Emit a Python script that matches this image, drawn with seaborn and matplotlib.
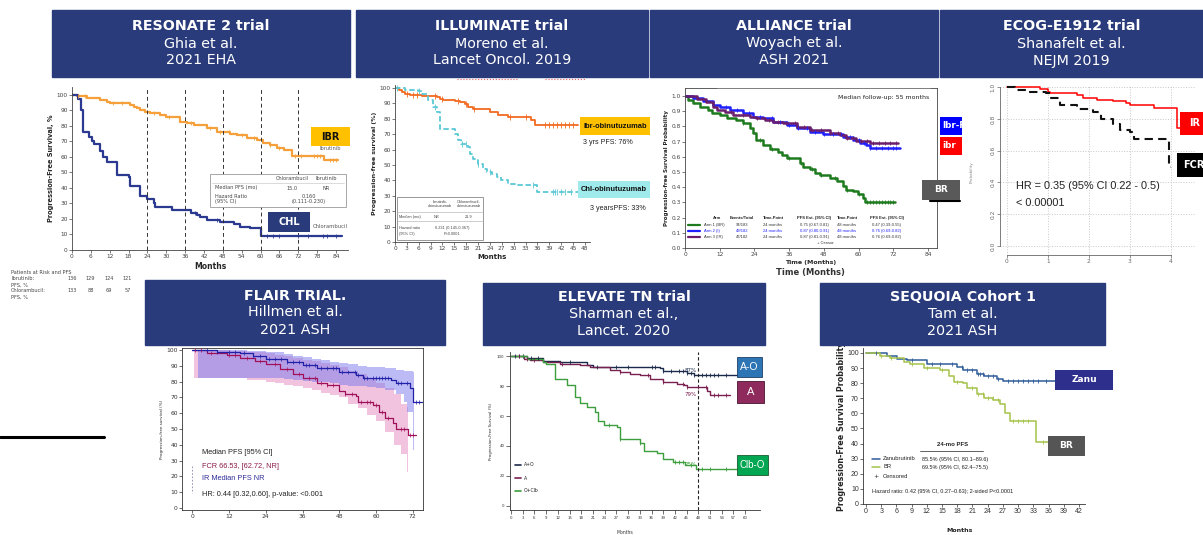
import matplotlib
matplotlib.use('Agg')
import matplotlib.pyplot as plt
from matplotlib.patches import Rectangle
import numpy as np
import seaborn as sns

W, H = 1203, 535
NAVY = '#2a3b7b'

# ---- RESONATE 2 (ibrutinib vs chlorambucil), PFS %
res_ibr_t = [0, 1.6, 4.8, 9, 11, 12.2, 18.5, 19.6, 20.6, 21.7, 23.3, 24.9, 28, 30, 34.4, 36.5, 38.7,
             42.9, 46, 50.3, 52.4, 55.6, 58.8, 60.9, 63, 65.1, 67.5, 70, 80.2, 84.7]
res_ibr_s = [100, 99, 97.6, 96.6, 95.5, 94.4, 93.3, 92.3, 91.2, 90, 89, 88, 87, 85.8, 82.6, 81.5, 80.5,
             78.3, 76.2, 75, 74, 71.9, 70.8, 68.7, 67.6, 65.5, 64.4, 60.5, 58, 58]
res_ibr_cens = [2, 4, 13, 16, 26, 31, 38, 44, 47, 50, 54, 58, 63, 66, 71, 73, 77, 78, 79, 82, 83, 84]
res_chl_t = [0, 2, 3, 3.5, 5.3, 6.4, 7, 9, 10, 11, 14.3, 18, 18.5, 21.7, 23.8, 26, 26.5, 31.8, 38,
             39.7, 40.8, 42.9, 47, 51.4, 53.5, 56.7, 60, 86]
res_chl_s = [100, 97, 90, 76, 73, 70, 68, 64, 60, 57, 48.5, 47, 41, 35, 33, 30, 28, 25.7, 23.6,
             22.5, 21.5, 19.3, 18.2, 17, 15, 14, 9, 9]
res_chl_cens = [39, 46, 62, 64, 66, 72, 75, 80, 81, 84]
res_landmarks = [24, 36, 48, 60, 72]
res_risk_ibr = ['136', '129', '124', '121']
res_risk_chl = ['133', '88', '69', '57']

# ---- ILLUMINATE, PFS %
ill_ibr_t = [0, 1, 1.7, 2.5, 3.8, 6.7, 10.5, 11.4, 12.2, 15.2, 16.4, 17.7, 18.5, 19.8, 24, 26.1,
             28.6, 34.5, 35.4, 46.3]
ill_ibr_s = [100, 98.5, 97.4, 96.3, 95.2, 94.8, 94.2, 93, 92, 91.3, 91, 89.8, 87.7, 86.6, 84.4,
             82.3, 81.2, 79, 76.2, 76.2]
ill_ibr_cens = [3, 4.5, 5.5, 10, 12, 16, 18, 20, 29, 33, 38, 39, 40, 41, 42, 43, 44, 45]
ill_chl_t = [0, 2.5, 5.9, 6.7, 8.4, 9.7, 10.5, 11.4, 15.2, 16, 16.8, 18.5, 18.9, 19.8, 21, 22.3,
             23.2, 24.4, 25.7, 26.9, 28.6, 30.3, 35.8, 47]
ill_chl_s = [100, 98.5, 97.8, 96.3, 92, 87.7, 84.4, 73.6, 70.3, 66, 63.9, 61.7, 57.4, 54, 50.9,
             47.2, 45.5, 44.4, 42.2, 40, 37.9, 36.8, 32.5, 32.5]
ill_chl_cens = [0.5, 6, 10, 17, 18, 21, 24, 35, 40, 40.5, 41, 42, 43, 44.5]

# ---- ALLIANCE, PFS probability
all_br_t = [0, 1.2, 2.9, 5.2, 8, 9.2, 12, 14.4, 17.8, 20, 22.4, 23.6, 24.7, 27, 29.3, 32.2, 33.4,
            35.1, 39.7, 40.9, 43.2, 44.9, 46.6, 50, 52.4, 54.7, 55.8, 58.1, 59.8, 61.6, 62.1, 72.5]
all_br_s = [1, .974, .952, .93, .908, .886, .875, .853, .842, .82, .788, .755, .711, .678, .652,
            .635, .613, .595, .558, .536, .519, .492, .481, .46, .438, .405, .383, .372, .354,
            .328, .306, .306]
all_br_cens = [20, 26, 30, 36, 40, 44, 47, 52, 56, 60, 63, 64, 65, 66, 67, 68, 69, 70, 71, 72]
all_i_t = [0, 2.9, 6.3, 9.8, 12, 15.5, 20, 23.6, 27, 30.5, 35.1, 38.6, 43.2, 47.8, 54.7, 58.1,
           60.4, 62.7, 63.9, 74.2]
all_i_s = [1, .985, .967, .94, .926, .908, .886, .864, .853, .831, .81, .788, .766, .748, .733,
           .711, .689, .678, .661, .661]
all_i_cens = [14, 18, 22, 26, 30, 33, 36, 39, 42, 45, 48, 51, 54, 57, 60, 62, 64, 66, 68, 70, 72, 73]
all_ir_t = [0, 4, 7.4, 9.8, 10.9, 13.8, 16.7, 22.4, 24.7, 27.6, 30.5, 33.9, 38.6, 43.2, 50, 53.5,
            55.8, 59.2, 63.9, 73.6]
all_ir_s = [1, .98, .963, .93, .908, .897, .875, .864, .858, .842, .831, .82, .799, .777, .755,
            .744, .722, .707, .689, .689]
all_ir_cens = [16, 20, 25, 29, 32, 35, 38, 41, 44, 47, 50, 53, 56, 58, 61, 63, 65, 67, 69, 71, 73]
all_rows = [('Arm 1 (BR)', '94/183', '0.75 (0.67-0.81)', '0.47 (0.39-0.55)'),
            ('Arm 2 (I)', '49/182', '0.87 (0.80-0.91)', '0.76 (0.69-0.82)'),
            ('Arm 3 (IR)', '47/182', '0.87 (0.81-0.91)', '0.76 (0.69-0.82)')]

# ---- ECOG-E1912, PFS probability vs years
ecog_ir_t = [0, 0.8, 1.0, 1.05, 1.7, 1.85, 2.2, 2.6, 2.9, 3.0, 3.6, 4.14, 4.24]
ecog_ir_s = [1, .99, .97, .96, .95, .93, .92, .91, .90, .89, .87, .74, .74]
ecog_fcr_t = [0, 0.2, 0.5, 0.95, 1.05, 1.3, 1.7, 2.1, 2.3, 2.6, 2.75, 3.0, 3.1, 3.5, 3.95, 4.0]
ecog_fcr_s = [1, .98, .97, .96, .93, .89, .86, .84, .80, .77, .73, .72, .67, .67, .50, .50]

# ---- FLAIR, PFS %
fl_ir_t = [0, 8, 15.7, 20, 24, 31, 36, 40.6, 48, 53.6, 55.7, 65, 66.5, 71, 72.1, 75]
fl_ir_s = [100, 99, 97.9, 96, 94.3, 92.6, 90.5, 88.4, 85.9, 84.2, 82, 81, 79, 75.8, 67.4, 67.4]
fl_ir_cens = [5, 8, 12, 14, 17, 20, 22, 25, 27, 29, 31, 33, 35, 37, 38, 40, 42, 44, 46, 47, 49, 51,
              53, 54, 56, 57, 59, 60, 61, 62, 63, 64, 67, 68, 70, 73, 74]
fl_fcr_t = [0, 5, 11.4, 15.7, 20.5, 24, 28.7, 33, 36, 40.6, 44, 48, 50, 53.6, 54, 59, 61, 63, 65.5,
            66.5, 70.5, 73]
fl_fcr_s = [100, 98, 97, 95, 93, 91, 88, 85, 82, 79, 78, 74, 72, 71, 67, 65, 61, 57, 54, 50, 46, 46]
fl_fcr_cens = [1, 3, 6, 12, 14, 18, 22, 27, 31, 35, 38, 40, 42, 44, 46, 50, 52, 55, 57, 58, 60, 62,
               64, 68, 69, 71, 72]
fl_ir_band_t = [2, 6, 12, 18, 24, 30, 33, 36, 39, 42, 45, 48, 51, 54, 57, 60, 63, 66.5, 69, 70,
                71, 72, 72.5]
fl_ir_band_hi = [100, 100, 100, 99.5, 98.5, 97.5, 96.5, 95.5, 94.5, 93.5, 92.5, 91.5, 91, 90, 89.5,
                 89, 88.5, 87.5, 87, 87, 86.5, 86, 86]
fl_ir_band_lo = [82, 82, 82, 82, 82, 81.5, 81, 80.5, 80, 79.5, 79, 78, 77.5, 77, 76.5, 76, 75, 72,
                 67, 61, 61, 37, 37]
fl_fcr_band_t = [0.5, 6, 12, 18, 24, 27, 30, 33, 36, 39, 42, 45, 48, 51, 54, 57, 60, 63, 66, 68,
                 70, 70.5]
fl_fcr_band_hi = [100, 100, 99.5, 99, 98, 97, 96, 95, 94, 93, 92, 90.5, 89, 87, 85, 82, 79, 76, 72,
                  66, 64, 64]
fl_fcr_band_lo = [82, 82, 82, 81, 80, 79, 78, 77, 76, 74.5, 73, 71.5, 70, 66, 63, 59, 55, 48, 40,
                  34, 23, 23]

# ---- ELEVATE TN, PFS %
el_ao_t = [0, 4, 8.3, 12.6, 19.4, 21.1, 26.2, 38.2, 39, 45, 46.8, 57.9]
el_ao_s = [100, 98.4, 96.6, 95.7, 93.9, 92.8, 92.4, 91.7, 89.9, 89, 87.6, 87.6]
el_ao_cens = [1, 2, 3, 5, 7, 15, 22, 27, 30, 36, 37, 39, 41, 43, 44, 45, 46, 47, 49, 50, 51, 52, 53, 55]
el_a_t = [0, 3.2, 4.9, 8.3, 12.6, 17.7, 20.3, 25.4, 28, 30.5, 33, 35.6, 39, 42.5, 44.2, 45, 50.2,
          51, 56.2]
el_a_s = [100, 98, 97.3, 96.2, 95, 93.9, 92.4, 90.6, 89.4, 88.3, 87.2, 84.9, 82.7, 81.6, 80.4,
          79.3, 77, 74.2, 74.2]
el_a_cens = [2, 4, 6, 13, 28, 35, 39, 44, 45, 48, 50, 52, 53, 55]
el_clb_t = [0, 4, 8.3, 9, 11.3, 14.3, 16.4, 17.7, 19.4, 21.5, 22.4, 23.7, 27.1, 28, 33, 34, 37.4,
            39, 41.6, 44.6, 47.4, 57.9]
el_clb_s = [100, 98, 96, 95, 85, 80.4, 72.6, 69, 65.8, 62.5, 56.9, 54, 52.4, 44.5, 42.2, 36.6,
            35.5, 31.5, 29.2, 27.6, 24.7, 24.7]
el_clb_cens = [3, 25, 28, 33, 42, 43, 44, 46, 49, 51, 55]
el_pct = ['87%', '79%', '25%']
el_landmark = 48

# ---- SEQUOIA, PFS %
sq_zanu_t = [0, 4.1, 6.1, 8, 12, 17.9, 19.2, 21.9, 23.2, 25.8, 27, 42.2]
sq_zanu_s = [100, 98, 96, 95.5, 93, 91, 89, 86, 85, 83, 81.5, 81.5]
sq_zanu_cens = [2, 9, 13, 14.5, 17, 19, 20, 21, 22, 22.5, 23, 24, 25, 26, 28, 29, 30, 31, 32, 33,
                34, 35.6]
sq_br_t = [0, 2.8, 4.8, 7.4, 8.7, 11.4, 14.6, 16.3, 17.3, 19.2, 19.9, 21.9, 23.2, 25.1, 26.4, 27.4,
           28.4, 33.5, 36.3]
sq_br_s = [100, 98, 97, 94, 93, 90, 89, 85, 81, 80, 77, 73, 70, 69, 66, 60, 55, 41, 41]
sq_br_cens = [3, 5, 9, 12, 15, 18, 21, 22, 23, 24, 25, 26, 29, 30, 31, 32, 35]

titles_top = [(52, 10, 350, 77, ['RESONATE 2 trial', 'Ghia et al.', '2021 EHA']),
              (356, 10, 648, 77, ['ILLUMINATE trial', 'Moreno et al.', 'Lancet Oncol. 2019']),
              (650, 10, 938, 77, ['ALLIANCE trial', 'Woyach et al.', 'ASH 2021']),
              (940, 10, 1203, 77, ['ECOG-E1912 trial', 'Shanafelt et al.', 'NEJM 2019'])]
titles_bottom = [(145, 280, 445, 345, ['FLAIR TRIAL.', 'Hillmen et al.', '2021 ASH']),
                 (483, 283, 765, 345, ['ELEVATE TN trial', 'Sharman et al.,', 'Lancet. 2020']),
                 (820, 283, 1105, 345, ['SEQUOIA Cohort 1', 'Tam et al.', '2021 ASH'])]

sns.set_style('ticks')
plt.rcParams['font.family'] = ['DejaVu Sans']
NARROW = ['Liberation Sans', 'DejaVu Sans']

fig = plt.figure(figsize=(W / 100, H / 100), dpi=100)


def px_axes(l, t, r, b):
    return fig.add_axes([l / W, 1 - b / H, (r - l) / W, (b - t) / H])


def km(ax, t, s, color, lw=1.2, ls='-', cens=None, ms=10, mlw=0.6):
    sns.lineplot(x=t, y=s, ax=ax, color=color, lw=lw, linestyle=ls,
                 drawstyle='steps-post', estimator=None, sort=False, legend=False)
    if cens:
        idx = np.searchsorted(t, cens, side='right') - 1
        sns.scatterplot(x=cens, y=np.array(s)[idx], ax=ax, marker='|', s=ms,
                        color=color, linewidth=mlw, legend=False, zorder=3)


def small_ticks(ax, fs=4.5, c='#444444', length=2):
    ax.tick_params(labelsize=fs, length=length, width=0.5, pad=1, colors=c)
    for sp in ax.spines.values():
        sp.set_linewidth(0.6)
        sp.set_color(c)


# RESONATE 2
ax = px_axes(72, 87, 348, 250)
km(ax, res_ibr_t, res_ibr_s, '#F5A03A', lw=1.6, cens=res_ibr_cens)
km(ax, res_chl_t, res_chl_s, '#2B3990', lw=1.6, cens=res_chl_cens)
for m in res_landmarks:
    ax.axvline(m, ls=(0, (4, 3)), color='#333333', lw=0.7)
ax.set_xlim(0, 87.8)
ax.set_ylim(0, 105)
ax.set_xticks(range(0, 85, 6))
ax.set_yticks(range(0, 101, 10))
sns.despine(ax=ax)
ax.set_xlabel('Months', fontsize=5.5, fontweight='bold', labelpad=2)
ax.set_ylabel('Progression-Free Survival, %', fontsize=4.8, fontweight='bold', labelpad=2)
small_ticks(ax, 4.2)

# ILLUMINATE
ax = px_axes(395, 85, 590, 242)
km(ax, ill_ibr_t, ill_ibr_s, '#F26A21', lw=1.3, cens=ill_ibr_cens, ms=14)
km(ax, ill_chl_t, ill_chl_s, '#5BC8D6', lw=1.3, ls=(0, (3, 1.5)), cens=ill_chl_cens, ms=14)
ax.set_xlim(0, 49.3)
ax.set_ylim(0, 102)
ax.set_xticks(range(0, 49, 3))
ax.set_yticks(range(0, 101, 10))
sns.despine(ax=ax)
ax.set_xlabel('Months', fontsize=5, fontweight='bold', labelpad=2)
ax.set_ylabel('Progression-free survival (%)', fontsize=4.5, fontweight='bold', labelpad=2)
small_ticks(ax, 4.2)

# ALLIANCE
ax = px_axes(685, 88, 937, 248)
km(ax, all_br_t, all_br_s, '#1E7A1E', lw=1.8, cens=all_br_cens, ms=8)
km(ax, all_i_t, all_i_s, '#1F1FFF', lw=1.8, cens=all_i_cens, ms=8)
km(ax, all_ir_t, all_ir_s, '#6B1E6B', lw=1.8, cens=all_ir_cens, ms=8)
ax.set_xlim(0, 87.1)
ax.set_ylim(0, 1.053)
ax.set_xticks(range(0, 85, 12))
ax.set_yticks(np.arange(0, 1.01, 0.1))
ax.set_yticklabels([f'{v:.1f}' for v in np.arange(0, 1.01, 0.1)])
ax.set_xlabel('Time (Months)', fontsize=4.5, fontweight='bold', labelpad=2)
ax.set_ylabel('Progression-free Survival Probability', fontsize=4, fontweight='bold', labelpad=2)
ax.text(0.97, 0.93, 'Median follow-up: 55 months', transform=ax.transAxes, ha='right',
        fontsize=4.5, color='#222222')
small_ticks(ax, 4.2)

# ECOG-E1912
ax = px_axes(1000, 85, 1195, 255)
km(ax, ecog_ir_t, ecog_ir_s, '#FF0000', lw=1.1)
km(ax, ecog_fcr_t, ecog_fcr_s, '#111111', lw=1.5, ls=(0, (4, 2.5)))
ax.set_xlim(-0.17, 4.59)
ax.set_ylim(-0.057, 1.013)
ax.set_xticks(range(0, 5))
ax.set_yticks(np.arange(0, 1.01, 0.2))
ax.set_yticklabels([f'{v:.1f}' for v in np.arange(0, 1.01, 0.2)], rotation=90, va='center')
ax.grid(True, ls=':', color='#c8c8c8', lw=0.7)
sns.despine(ax=ax)
ax.spines['left'].set_bounds(0, 1)
ax.spines['bottom'].set_bounds(0, 4)
small_ticks(ax, 4.2, c='#666666')

# FLAIR
ax = px_axes(182, 348, 423, 510)
ax.fill_between(fl_fcr_band_t, fl_fcr_band_lo, fl_fcr_band_hi, step='post', color='#E693C4',
                alpha=0.55, lw=0)
ax.fill_between(fl_ir_band_t, fl_ir_band_lo, fl_ir_band_hi, step='post', color='#7B78EC',
                alpha=0.5, lw=0)
km(ax, fl_fcr_t, fl_fcr_s, '#A0105A', lw=0.9, cens=fl_fcr_cens, ms=5, mlw=0.5)
km(ax, fl_ir_t, fl_ir_s, '#2020A8', lw=0.9, cens=fl_ir_cens, ms=5, mlw=0.5)
ax.set_xlim(-3.3, 75.3)
ax.set_ylim(-1.3, 101.3)
ax.set_xticks(range(0, 73, 12))
ax.set_yticks(range(0, 101, 10))
ax.set_ylabel('Progression-free survival (%)', fontsize=3, labelpad=2)
small_ticks(ax, 4.3, c='#333333')

# ELEVATE TN
ax = px_axes(510, 352, 760, 510)
km(ax, el_ao_t, el_ao_s, '#1B2A4A', lw=1.0, cens=el_ao_cens, ms=12)
km(ax, el_a_t, el_a_s, '#7A2050', lw=1.0, cens=el_a_cens, ms=12)
km(ax, el_clb_t, el_clb_s, '#3C9E3C', lw=1.0, cens=el_clb_cens, ms=12)
ax.axvline(el_landmark, ls=(0, (3, 2)), color='#222222', lw=0.8)
ax.set_xlim(-0.26, 63.8)
ax.set_ylim(-2.7, 102.7)
ax.set_xticks(range(0, 61, 3))
ax.set_yticks(range(0, 101, 20))
sns.despine(ax=ax)
ax.set_ylabel('Progression-Free Survival (%)', fontsize=2.8, labelpad=3)
small_ticks(ax, 2.8, c='#333333', length=3)
pct_y = [el_ao_s[-1], el_a_s[np.searchsorted(el_a_t, el_landmark) - 1], el_clb_s[-1]]
for txt, yv, c in zip(el_pct, pct_y, ['#1B2A4A', '#7A2050', '#3C9E3C']):
    ax.text(el_landmark - 0.5, yv + (3 if txt != '79%' else -5), txt, ha='right', va='center',
            fontsize=4, color=c)

# SEQUOIA
ax = px_axes(863, 348, 1085, 504)
km(ax, sq_zanu_t, sq_zanu_s, '#2F5C9A', lw=1.1, cens=sq_zanu_cens, ms=10)
km(ax, sq_br_t, sq_br_s, '#A6C24B', lw=1.1, cens=sq_br_cens, ms=10)
ax.set_xlim(-0.6, 43.2)
ax.set_ylim(0, 103.3)
ax.set_xticks(range(0, 43, 3))
ax.set_yticks(range(0, 101, 10))
sns.despine(ax=ax)
ax.set_ylabel('Progression-Free Survival Probability', fontsize=5.8, fontweight='bold', labelpad=1)
small_ticks(ax, 5, c='#333333')
for lbl in ax.get_xticklabels() + ax.get_yticklabels():
    lbl.set_family(NARROW)

# ---- overlay for title banners, tags and loose text (pixel coordinates)
ov = fig.add_axes([0, 0, 1, 1])
ov.set_xlim(0, W)
ov.set_ylim(H, 0)
ov.axis('off')


def T(x, y, s, fs, **kw):
    kw.setdefault('va', 'center')
    return ov.text(x, y, s, fontsize=fs, **kw)


def title_box(l, t, r, b, lines):
    ov.add_patch(Rectangle((l, t), r - l, b - t, color=NAVY, zorder=5))
    cy = (t + b) / 2
    for i, line in enumerate(lines):
        T((l + r) / 2, cy + (i - 1) * 17, line, 10.3, ha='center', color='white',
          fontweight='bold' if i == 0 else 'normal', zorder=6)


def tag(l, t, r, b, txt, fc, tc='white', fs=7, family=None, ec='none', bold=True, left=False):
    rect = Rectangle((l, t), r - l, b - t, facecolor=fc, edgecolor=ec, lw=0.6, zorder=7)
    ov.add_patch(rect)
    x = l + 2 if left else (l + r) / 2
    tx = T(x, (t + b) / 2, txt, fs, ha='left' if left else 'center', color=tc, zorder=8,
           fontweight='bold' if bold else 'normal', family=family or ['DejaVu Sans'])
    tx.set_clip_path(rect)


for box in titles_top + titles_bottom:
    title_box(*box)

# RESONATE extras
ov.add_patch(Rectangle((210, 174), 136, 33, facecolor='white', edgecolor='#999999', lw=0.6, zorder=4))
ov.plot([212, 344], [183, 183], color='#cccccc', lw=0.5, zorder=4)
for x, y, s, ha in [(292, 179, 'Chlorambucil', 'center'), (326, 179, 'Ibrutinib', 'center'),
                    (215, 188, 'Median PFS (mo)', 'left'), (292, 188, '15.0', 'center'),
                    (326, 188, 'NR', 'center'), (215, 196, 'Hazard Ratio', 'left'),
                    (309, 196, '0.160', 'center'), (215, 202, '(95% CI)', 'left'),
                    (309, 202, '(0.111-0.230)', 'center')]:
    T(x, y, s, 3.6, ha=ha, color='#444444', zorder=4.5)
tag(311, 127, 350, 146, 'IBR', '#FFC000', tc='#111111', fs=7)
T(330, 149, 'Ibrutinib', 3.6, ha='center', color='#555555')
tag(268, 212, 310, 232, 'CHL', NAVY, fs=7)
T(330, 226, 'Chlorambucil', 3.8, ha='center', color='#555555')
T(11, 272, 'Patients at Risk and PFS', 3.6, color='#444444')
T(11, 279, 'Ibrutinib:', 3.6, color='#444444')
T(11, 285, 'PFS, %', 3.6, color='#444444')
T(11, 291, 'Chlorambucil:', 3.6, color='#444444')
T(11, 297, 'PFS, %', 3.6, color='#444444')
for i, (a, b) in enumerate(zip(res_risk_ibr, res_risk_chl)):
    T(72 + i * 18.5, 279, a, 3.6, ha='center', color='#444444')
    T(72 + i * 18.5, 291, b, 3.6, ha='center', color='#444444')

# ILLUMINATE extras
ov.plot([457, 517], [79, 79], color='#e06060', ls=':', lw=0.8)
ov.plot([545, 585], [79, 79], color='#e06060', ls=':', lw=0.8)
ov.add_patch(Rectangle((397, 197), 86, 43, facecolor='white', edgecolor='#888888', lw=0.6, zorder=4))
ov.plot([397, 483], [212, 212], color='#aaaaaa', lw=0.4, zorder=4)
ov.plot([397, 483], [221, 221], color='#aaaaaa', lw=0.4, zorder=4)
for x, y, s, ha in [(440, 204, 'Ibrutinib-\nobinutuzumab', 'center'),
                    (469, 204, 'Chlorambucil-\nobinutuzumab', 'center'),
                    (399, 217, 'Median (mo)', 'left'), (437, 217, 'NR', 'center'),
                    (469, 217, '21.9', 'center'), (399, 228, 'Hazard ratio', 'left'),
                    (399, 234, '(95% CI)', 'left'), (452, 228, '0.231 (0.145-0.367)', 'center'),
                    (452, 234, 'P<0.0001', 'center')]:
    T(x, y, s, 2.8, ha=ha, color='#444444', zorder=4.5, linespacing=1.1, family=NARROW)
tag(580, 117, 650, 135, 'Ibr-obinutuzumab', '#FFC000', tc='#111111', fs=5.4, family=NARROW)
T(583, 143, '3 yrs PFS: 76%', 5.1, color='#222222', family=NARROW)
tag(578, 181, 650, 198, 'Chl-obinutuzumab', '#9FEBEB', tc='#111111', fs=5.4, family=NARROW)
T(590, 208, '3 yearsPFS: 33%', 5.1, color='#222222', family=NARROW)

# ALLIANCE extras
ov.plot([717, 930], [88, 88], color='#888888', lw=0.6)
hdr_x = [717, 742, 773, 814, 847, 887]
for x, s in zip(hdr_x, ['Arm', 'Events/Total', 'Time-Point', 'PFS Est. (95% CI)', 'Time-Point',
                        'PFS Est. (95% CI)']):
    T(x, 218, s, 3.0, ha='center', fontweight='bold', color='#222222', family=NARROW)
for i, (row, c) in enumerate(zip(all_rows, ['#1E7A1E', '#1F1FFF', '#6B1E6B'])):
    y = 225 + i * 5.8
    ov.plot([688, 700], [y, y], color=c, lw=1.6)
    tc = '#1F1FFF' if i == 1 else '#333333'
    T(704, y, row[0], 3.0, color=tc, family=NARROW)
    T(742, y, row[1], 3.0, ha='center', color=tc, family=NARROW)
    T(773, y, '24 months', 3.0, ha='center', color=tc, family=NARROW)
    T(814, y, row[2], 3.0, ha='center', color=tc, family=NARROW)
    T(847, y, '48 months', 3.0, ha='center', color=tc, family=NARROW)
    T(887, y, row[3], 3.0, ha='center', color=tc, family=NARROW)
T(825, 243, '+ Censor', 3.0, ha='center', color='#333333', family=NARROW)
T(810, 272, 'Time (Months)', 6, ha='center', fontweight='bold', color='#333333')
tag(940, 117, 962, 135, 'Ibr-R', '#0000FF', fs=6.3, left=True)
tag(940, 137, 962, 155, 'ibr', '#FF0000', fs=6.3, left=True)
ov.plot([930, 960], [201, 201], color='black', lw=1.5, zorder=6)
tag(922, 180, 960, 200, 'BR', '#595959', fs=6.5)

# ECOG extras
T(972, 172, 'Probability', 3, rotation=90, ha='center', color='#888888')
T(1016, 186, 'HR = 0.35 (95% CI 0.22 - 0.5)', 7.8, color='#222222', family=['Liberation Sans'])
T(1016, 203, '< 0.00001', 7.8, color='#222222', family=['Liberation Sans'])
tag(1180, 112, 1210, 135, 'IR', '#FF0000', fs=7)
tag(1177, 153, 1210, 177, 'FCR', '#000000', fs=7)

# FLAIR extras
ov.plot([0, 104], [437, 437], color='black', lw=2.2)
T(202, 453, 'Median PFS [95% CI]', 5.3, color='#222222', family=['Liberation Sans'])
T(202, 466, 'FCR 66.53, [62.72, NR]', 5.3, color='#8B1A4B', family=['Liberation Sans'])
T(202, 478, 'IR Median PFS NR', 5.3, color='#2E2E9A', family=['Liberation Sans'])
T(202, 495, 'HR: 0.44 [0.32,0.60], p-value: <0.001', 5.3, color='#222222', family=['Liberation Sans'])
ov.plot([192, 192], [466, 493], color='#8888aa', ls=(0, (2, 2)), lw=0.6)

# ELEVATE extras
for y, s, c in [(465, 'A+O', '#1B2A4A'), (478, 'A', '#7A2050'), (491, 'O+Clb', '#3C9E3C')]:
    ov.plot([515, 521], [y, y], color=c, lw=1.2)
    T(524, y, s, 3.3, color='#222222')
T(625, 533, 'Months', 3.3, ha='center', color='#333333')
tag(737, 357, 762, 377, 'A-O', '#2E75B6', fs=7.5, family=NARROW, ec='#1F3F66', bold=False)
tag(737, 381, 764, 403, 'A', '#8E2A5C', fs=8, family=NARROW, ec='#4a1530', bold=False)
tag(737, 455, 768, 475, 'Clb-O', '#00A651', fs=7, family=NARROW, ec='#1a5a2a', bold=False)

# SEQUOIA extras
T(960, 531, 'Months', 4.5, ha='center', fontweight='bold', color='#222222')
for y, s, c in [(459, 'Zanubrutinib', '#2F5C9A'), (467, 'BR', '#A6C24B')]:
    ov.plot([872, 880], [y, y], color=c, lw=1.1)
    T(883, y, s, 4.2, color='#222222', family=NARROW)
T(876, 477, '+', 4.5, ha='center', color='#222222')
T(883, 477, 'Censored', 4.2, color='#222222', family=NARROW)
T(953, 445, '24-mo PFS', 4.3, ha='center', fontweight='bold', color='#222222', family=NARROW)
ov.plot([920, 983], [451, 451], color='#222222', lw=0.5)
T(922, 459, '85.5% (95% CI, 80.1\u201389.6)', 4.0, color='#222222', family=NARROW)
T(922, 467, '69.5% (95% CI, 62.4\u201375.5)', 4.0, color='#222222', family=NARROW)
T(872, 492, 'Hazard ratio: 0.42 (95% CI, 0.27\u20130.63); 2-sided P<0.0001', 4.0, color='#222222',
  family=NARROW)
tag(1055, 370, 1113, 390, 'Zanu', '#2E2E8C', fs=6.5)
tag(1048, 436, 1085, 456, 'BR', '#555555', fs=6.5)

fig.savefig('out.png', dpi=100)
